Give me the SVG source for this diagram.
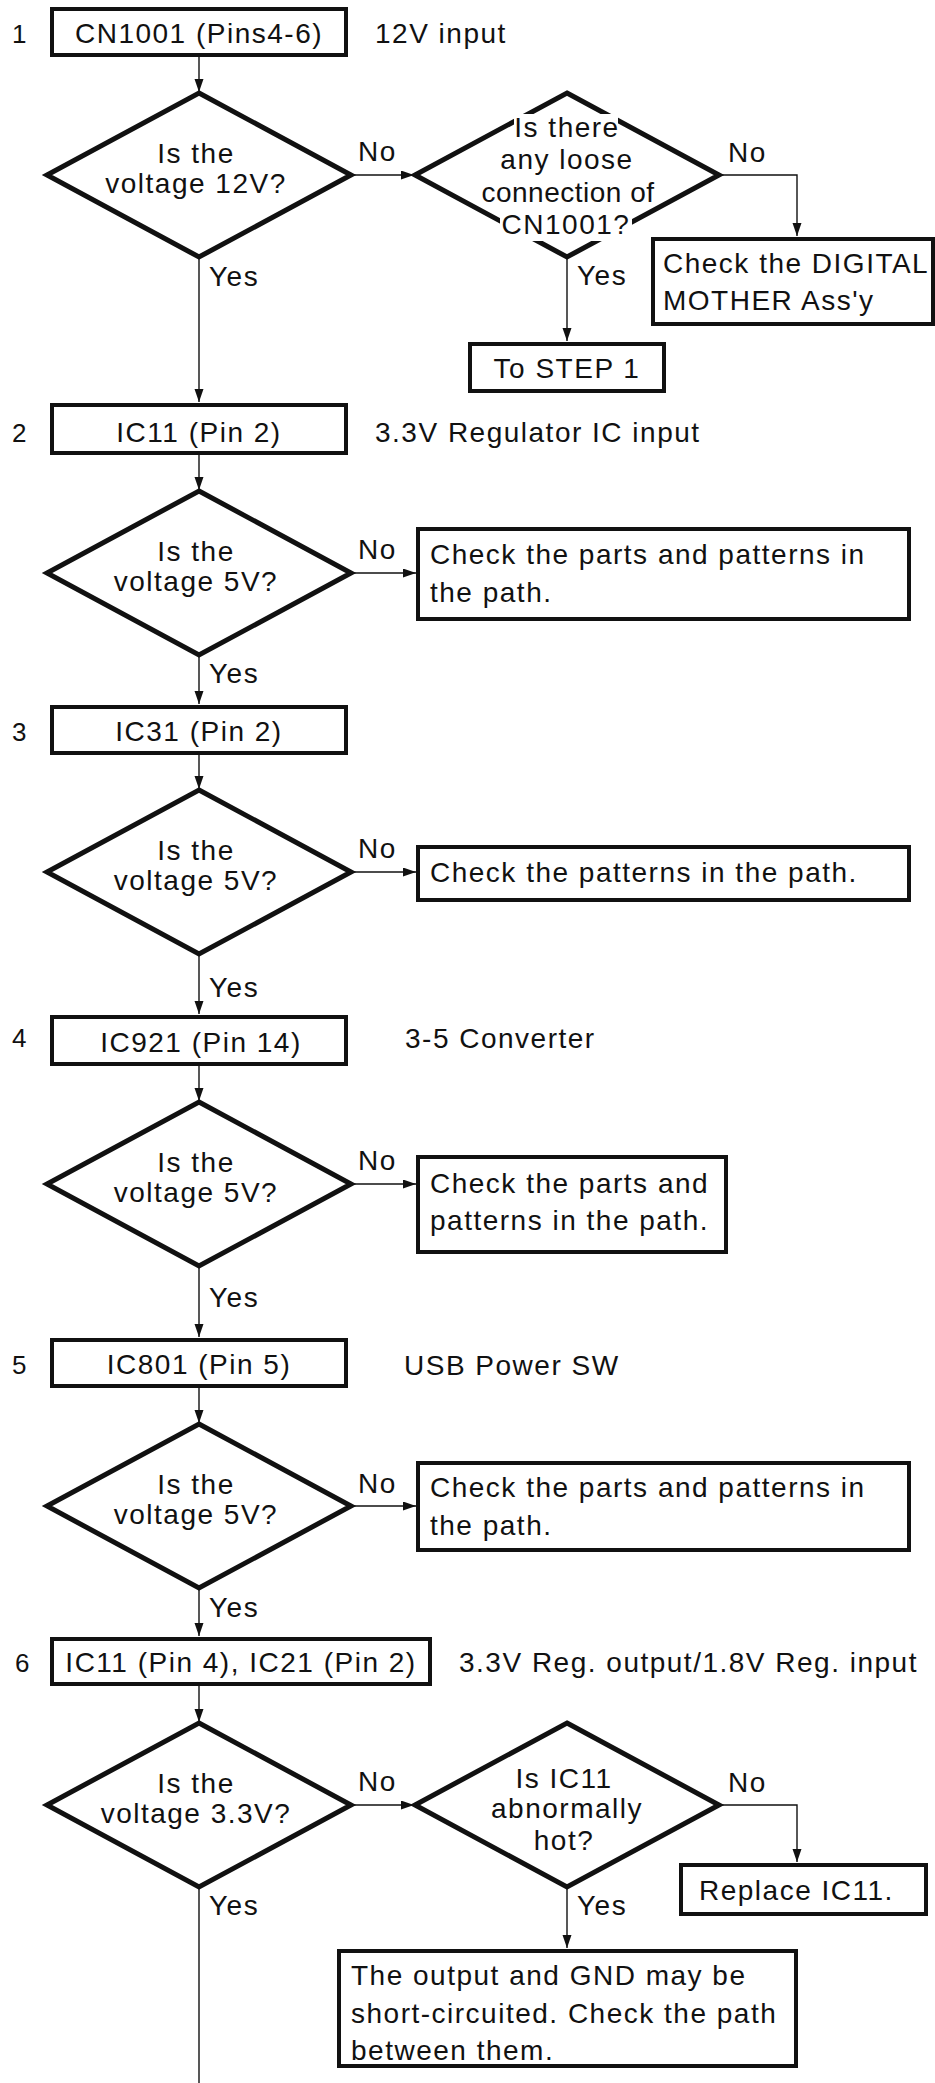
<svg xmlns="http://www.w3.org/2000/svg" width="935" height="2083" viewBox="0 0 935 2083">
<style>
text{font-family:"Liberation Sans",Arial,sans-serif;font-size:28px;letter-spacing:1.5px;fill:#111}
.num{font-size:26px}
.c{text-anchor:middle}
.tight{letter-spacing:0.5px}
.box{fill:#fff;stroke:#111;stroke-width:4}
.dia{fill:#fff;stroke:#111;stroke-width:5;stroke-linejoin:miter}
.ln{fill:none;stroke:#111;stroke-width:1.4}
.ko{fill:#fff}
</style>
<defs>
<marker id="ah" markerUnits="userSpaceOnUse" markerWidth="14" markerHeight="10" refX="13" refY="4.5" orient="auto">
<path d="M0,0 L13,4.5 L0,9 z" fill="#111"/>
</marker>
</defs>
<rect width="935" height="2083" fill="#fff"/>

<g id="connectors">
<line class="ln" x1="199" y1="57" x2="199" y2="92" marker-end="url(#ah)"/>
<line class="ln" x1="199" y1="257" x2="199" y2="402" marker-end="url(#ah)"/>
<line class="ln" x1="351" y1="175" x2="414" y2="175" marker-end="url(#ah)"/>
<polyline class="ln" points="719,175 797,175 797,236" marker-end="url(#ah)"/>
<line class="ln" x1="567" y1="257" x2="567" y2="341" marker-end="url(#ah)"/>
<line class="ln" x1="199" y1="455" x2="199" y2="490" marker-end="url(#ah)"/>
<line class="ln" x1="351" y1="573" x2="416" y2="573" marker-end="url(#ah)"/>
<line class="ln" x1="199" y1="655" x2="199" y2="704" marker-end="url(#ah)"/>
<line class="ln" x1="199" y1="755" x2="199" y2="789" marker-end="url(#ah)"/>
<line class="ln" x1="351" y1="872" x2="416" y2="872" marker-end="url(#ah)"/>
<line class="ln" x1="199" y1="954" x2="199" y2="1014" marker-end="url(#ah)"/>
<line class="ln" x1="199" y1="1066" x2="199" y2="1101" marker-end="url(#ah)"/>
<line class="ln" x1="351" y1="1184" x2="416" y2="1184" marker-end="url(#ah)"/>
<line class="ln" x1="199" y1="1266" x2="199" y2="1337" marker-end="url(#ah)"/>
<line class="ln" x1="199" y1="1388" x2="199" y2="1423" marker-end="url(#ah)"/>
<line class="ln" x1="351" y1="1506" x2="416" y2="1506" marker-end="url(#ah)"/>
<line class="ln" x1="199" y1="1588" x2="199" y2="1636" marker-end="url(#ah)"/>
<line class="ln" x1="199" y1="1686" x2="199" y2="1722" marker-end="url(#ah)"/>
<line class="ln" x1="351" y1="1805" x2="414" y2="1805" marker-end="url(#ah)"/>
<polyline class="ln" points="719,1805 797,1805 797,1862" marker-end="url(#ah)"/>
<line class="ln" x1="567" y1="1887" x2="567" y2="1948" marker-end="url(#ah)"/>
<line class="ln" x1="199" y1="1887" x2="199" y2="2083"/>
<text x="358" y="161">No</text>
<text x="728" y="162">No</text>
<text x="209" y="286">Yes</text>
<text x="577" y="285">Yes</text>
<text x="358" y="559">No</text>
<text x="209" y="683">Yes</text>
<text x="358" y="858">No</text>
<text x="209" y="997">Yes</text>
<text x="358" y="1170">No</text>
<text x="209" y="1307">Yes</text>
<text x="358" y="1493">No</text>
<text x="209" y="1617">Yes</text>
<text x="358" y="1791">No</text>
<text x="728" y="1792">No</text>
<text x="209" y="1915">Yes</text>
<text x="577" y="1915">Yes</text>
</g>

<g id="step1">
<text class="num" x="12" y="43">1</text>
<rect class="box" x="52" y="9" width="294" height="46"/>
<text class="c" x="199" y="43">CN1001 (Pins4-6)</text>
<text x="375" y="43">12V input</text>
</g>
<g id="d1">
<polygon class="dia" points="199,93 351,175 199,257 47,175"/>
<text class="c" x="196" y="163">Is the</text>
<text class="c" x="196" y="193">voltage 12V?</text>
</g>
<g id="d2">
<polygon class="dia" points="567,93 719,175 567,257 415,175"/>
<rect class="ko" x="514" y="114" width="104" height="30"/>
<rect class="ko" x="500" y="212" width="132" height="29"/>
<text class="c" x="567" y="137">Is there</text>
<text class="c" x="567" y="169">any loose</text>
<text class="c tight" x="568" y="202">connection of</text>
<text class="c" x="566" y="234">CN1001?</text>
</g>
<g id="r1">
<rect class="box" x="653" y="239" width="280" height="85"/>
<text x="663" y="273">Check the DIGITAL</text>
<text x="663" y="310">MOTHER Ass'y</text>
</g>
<g id="r2">
<rect class="box" x="470" y="344" width="194" height="47"/>
<text class="c" x="567" y="378">To STEP 1</text>
</g>

<g id="step2">
<text class="num" x="12" y="442">2</text>
<rect class="box" x="52" y="405" width="294" height="48"/>
<text class="c" x="199" y="442">IC11 (Pin 2)</text>
<text x="375" y="442">3.3V Regulator IC input</text>
</g>
<g id="d3">
<polygon class="dia" points="199,491 351,573 199,655 47,573"/>
<text class="c" x="196" y="561">Is the</text>
<text class="c" x="196" y="591">voltage 5V?</text>
</g>
<g id="r3">
<rect class="box" x="418" y="529" width="491" height="90"/>
<text x="430" y="564">Check the parts and patterns in</text>
<text x="430" y="602">the path.</text>
</g>

<g id="step3">
<text class="num" x="12" y="741">3</text>
<rect class="box" x="52" y="707" width="294" height="46"/>
<text class="c" x="199" y="741">IC31 (Pin 2)</text>
</g>
<g id="d4">
<polygon class="dia" points="199,790 351,872 199,954 47,872"/>
<text class="c" x="196" y="860">Is the</text>
<text class="c" x="196" y="890">voltage 5V?</text>
</g>
<g id="r4">
<rect class="box" x="418" y="847" width="491" height="53"/>
<text x="430" y="882">Check the patterns in the path.</text>
</g>

<g id="step4">
<text class="num" x="12" y="1047">4</text>
<rect class="box" x="52" y="1017" width="294" height="47"/>
<text class="c" x="201" y="1052">IC921 (Pin 14)</text>
<text x="405" y="1048">3-5 Converter</text>
</g>
<g id="d5">
<polygon class="dia" points="199,1102 351,1184 199,1266 47,1184"/>
<text class="c" x="196" y="1172">Is the</text>
<text class="c" x="196" y="1202">voltage 5V?</text>
</g>
<g id="r5">
<rect class="box" x="418" y="1157" width="308" height="95"/>
<text x="430" y="1193">Check the parts and</text>
<text x="430" y="1230">patterns in the path.</text>
</g>

<g id="step5">
<text class="num" x="12" y="1374">5</text>
<rect class="box" x="52" y="1340" width="294" height="46"/>
<text class="c" x="199" y="1374">IC801 (Pin 5)</text>
<text x="404" y="1375">USB Power SW</text>
</g>
<g id="d6">
<polygon class="dia" points="199,1424 351,1506 199,1588 47,1506"/>
<text class="c" x="196" y="1494">Is the</text>
<text class="c" x="196" y="1524">voltage 5V?</text>
</g>
<g id="r6">
<rect class="box" x="418" y="1463" width="491" height="87"/>
<text x="430" y="1497">Check the parts and patterns in</text>
<text x="430" y="1535">the path.</text>
</g>

<g id="step6">
<text class="num" x="15" y="1672">6</text>
<rect class="box" x="52" y="1639" width="378" height="45"/>
<text class="c" x="241" y="1672">IC11 (Pin 4), IC21 (Pin 2)</text>
<text x="459" y="1672">3.3V Reg. output/1.8V Reg. input</text>
</g>
<g id="d7">
<polygon class="dia" points="199,1723 351,1805 199,1887 47,1805"/>
<text class="c" x="196" y="1793">Is the</text>
<text class="c" x="196" y="1823">voltage 3.3V?</text>
</g>
<g id="d8">
<polygon class="dia" points="567,1723 719,1805 567,1887 415,1805"/>
<text class="c" x="564" y="1788">Is IC11</text>
<text class="c" x="567" y="1818">abnormally</text>
<text class="c" x="564" y="1850">hot?</text>
</g>
<g id="r7">
<rect class="box" x="681" y="1865" width="245" height="49"/>
<text x="699" y="1900">Replace IC11.</text>
</g>
<g id="r8">
<rect class="box" x="339" y="1951" width="457" height="115"/>
<text x="351" y="1985">The output and GND may be</text>
<text x="351" y="2023">short-circuited. Check the path</text>
<text x="351" y="2060">between them.</text>
</g>
</svg>
